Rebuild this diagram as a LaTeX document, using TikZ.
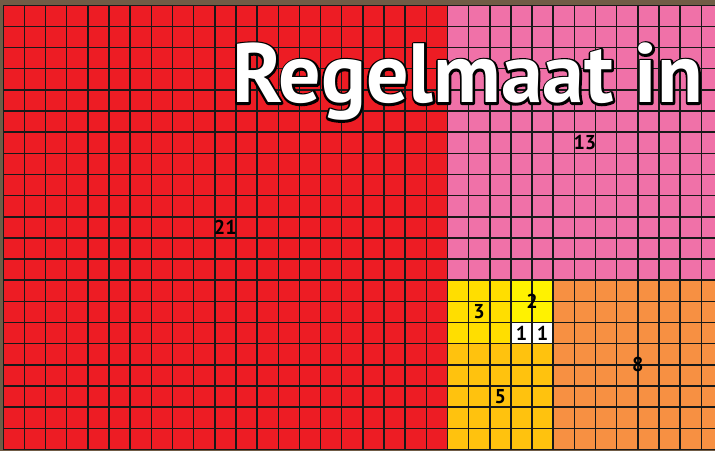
\documentclass[tikz,border=0pt]{standalone}
\usepackage{fontspec}
\setmainfont{PT Sans}
\usetikzlibrary{positioning}

\definecolor{photo}{RGB}{112,92,70}
\definecolor{fibred}{RGB}{237,28,36}
\definecolor{fibpink}{RGB}{240,113,168}
\definecolor{fiborange}{RGB}{247,144,66}
\definecolor{fibgold}{RGB}{255,194,14}
\definecolor{fibyellow}{RGB}{255,222,0}
\definecolor{fiblemon}{RGB}{255,242,0}

% thick black stroked letters, laid under the white title
\newcommand{\rimtext}[1]{\special{pdf:literal direct 2 Tr 2.8 w 0 G 1 j}#1\special{pdf:literal direct 0 Tr}}

\begin{document}
\begin{tikzpicture}[
    x=0.5cm, y=0.5cm,
    fibsq/.style={minimum size=#1*0.5cm, inner sep=0pt, outer sep=0pt},
    num/.style={font=\bfseries\fontsize{13.5}{13.5}\selectfont, inner sep=0pt},
    gridline/.style={line width=1pt, black!90},
    title/.style={font=\bfseries\fontsize{56.5}{56.5}\selectfont, inner sep=0pt, anchor=base west}
]
    \useasboundingbox (-0.156,-0.06) rectangle (33.65,21.25);
    \clip (-0.156,-0.06) rectangle (33.65,21.25);
    \fill[photo] (-0.156,-0.06) rectangle (33.65,21.25);

    % Fibonacci squares
    \node[fibsq=21, fill=fibred]    (s21) at (10.5,10.5) {};
    \node[fibsq=13, fill=fibpink]   (s13) at (27.5,14.5) {};
    \node[fibsq=8,  fill=fiborange] (s8)  at (30,4)      {};
    \node[fibsq=5,  fill=fibgold]   (s5)  at (23.5,2.5)  {};
    \node[fibsq=3,  fill=fibyellow] (s3)  at (22.5,6.5)  {};
    \node[fibsq=2,  fill=fiblemon]  (s2)  at (25,7)      {};
    \node[fibsq=1,  fill=white]     (s1a) at (24.5,5.5)  {};
    \node[fibsq=1,  fill=white]     (s1b) at (25.5,5.5)  {};

    \draw[gridline, step={(1,1)}] (0,0) grid (34,21);

    % numbers
    \node[num] (l21) at (s21.center) {21};
    \node[num] (l13) at (s13.center) {13};
    \node[num] (l8)  at (s8.center)  {8};
    \node[num] (l5)  at (s5.center)  {5};
    \node[num] (l3)  at (s3.center)  {3};
    \node[num] (l2)  at (s2.center)  {2};
    \node[num] (l1a) at (s1a.center) {1};
    \node[num] (l1b) at (s1b.center) {1};

    % title
    \node[title, text=black] (ttlrim) at (10.81,16.38) {\rimtext{Regelmaat in}};
    \node[title, text=white] (ttl) at (ttlrim.base west) {Regelmaat in};
\end{tikzpicture}
\end{document}
